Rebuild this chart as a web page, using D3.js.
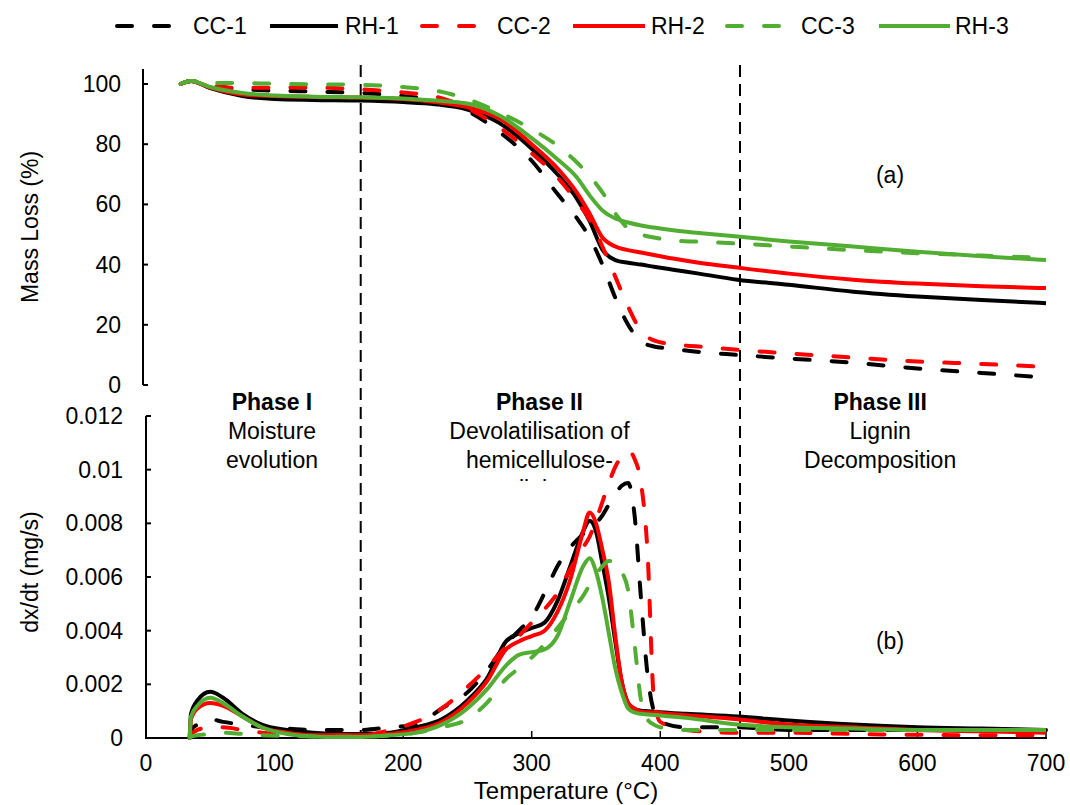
<!DOCTYPE html>
<html>
<head>
<meta charset="utf-8">
<script src="https://cdn.jsdelivr.net/npm/d3@7"></script>
<style>
  body { margin: 0; background: #fff; }
  svg { font-family: "Liberation Sans", Arial, sans-serif; }
</style>
</head>
<body>
<div id="chart"></div>
<script>
// series names and colours
var names = ["CC-1", "RH-1", "CC-2", "RH-2", "CC-3", "RH-3"];
var colors = ["#000000", "#000000", "#ff0000", "#ff0000", "#52ae32", "#52ae32"];
var dashed = [true, false, true, false, true, false];

// (a) mass loss, %
var tgTemp = [27, 35, 50, 75, 100, 130, 167, 200, 225, 250, 275, 300, 320, 335, 345, 355, 365, 375, 385, 395, 410, 430, 460, 500, 550, 600, 650, 700];
var tgCC1 = [100, 101, 99.5, 98.3, 97.8, 97.5, 97, 96, 94.5, 91, 84, 74.5, 63.5, 55.5, 49, 40, 29, 20, 14.5, 12.8, 12, 11, 10, 8.8, 7.4, 5.5, 4, 2.5];
var tgRH1 = [100, 101, 98.6, 96, 95, 94.7, 94.5, 94, 93.3, 91.5, 87, 78.5, 70, 62, 54.5, 45, 41.5, 40.6, 40, 39.3, 38.3, 37, 35, 33.3, 31, 29.4, 28.2, 27.2];
var tgCC2 = [100, 101, 99.3, 98.7, 98.8, 98.8, 98.2, 97.2, 95.8, 92, 85.5, 77, 69, 61, 55, 46, 36, 26, 18, 14.8, 13.5, 12.8, 11.7, 10.5, 9.1, 7.8, 7, 6];
var tgRH2 = [100, 101, 98.8, 96.5, 96, 95.7, 95.5, 95, 94, 92.3, 88.5, 80, 72, 64, 57, 49, 46, 44.8, 44, 43.2, 42, 40.6, 39, 37, 35, 33.7, 32.8, 32.2];
var tgCC3 = [100, 101, 100.4, 100.3, 100.1, 99.9, 99.7, 99, 97.8, 95, 90.5, 85, 79.5, 74, 69.5, 64, 57, 52, 50, 49, 48, 47.6, 47, 46, 44.8, 43.8, 43, 42.2];
var tgRH3 = [100, 101, 99, 97, 96.2, 95.8, 95.6, 95.2, 94.5, 93.5, 89.5, 82, 75, 69, 63, 58, 55.3, 54, 53, 52.3, 51.4, 50.5, 49.3, 47.7, 46, 44.3, 42.8, 41.5];

// (b) dx/dt, mg/s
var dtgTemp = [34, 35, 40, 50, 60, 75, 90, 110, 130, 150, 167, 190, 210, 230, 250, 265, 280, 290, 300, 310, 320, 330, 340, 345, 350, 355, 360, 365, 370, 375, 380, 385, 390, 395, 400, 420, 460, 500, 550, 600, 650, 700];
var dtgCC1 = [0, 0.0003, 0.0005, 0.0007, 0.0006, 0.0005, 0.0004, 0.00035, 0.0003, 0.0003, 0.0003, 0.0004, 0.0005, 0.0011, 0.0017, 0.0025, 0.0035, 0.004, 0.0045, 0.0054, 0.0064, 0.0071, 0.0076, 0.0078, 0.008, 0.0083, 0.0087, 0.0091, 0.0094, 0.0095, 0.0083, 0.0052, 0.0024, 0.001, 0.0006, 0.0004, 0.0004, 0.0003, 0.0003, 0.0003, 0.0003, 0.0003];
var dtgRH1 = [0, 0.0009, 0.0014, 0.00172, 0.0015, 0.0009, 0.0005, 0.0003, 0.0002, 0.00015, 0.00015, 0.0002, 0.0004, 0.0007, 0.0014, 0.0022, 0.0036, 0.0039, 0.0041, 0.0043, 0.0051, 0.0064, 0.0077, 0.0081, 0.0077, 0.0065, 0.0052, 0.0036, 0.0021, 0.0013, 0.00108, 0.00102, 0.001, 0.00098, 0.00096, 0.0009, 0.0008, 0.00065, 0.0005, 0.0004, 0.00035, 0.0003];
var dtgCC2 = [0, 0.0001, 0.0003, 0.0004, 0.0004, 0.0003, 0.0002, 0.00015, 0.0001, 0.0001, 0.0001, 0.0003, 0.0006, 0.0011, 0.0019, 0.0026, 0.0034, 0.0038, 0.0043, 0.0048, 0.0054, 0.0063, 0.0071, 0.0075, 0.0081, 0.0088, 0.0095, 0.0101, 0.0105, 0.0107, 0.0104, 0.0095, 0.007, 0.0015, 0.0006, 0.0003, 0.0002, 0.0002, 0.00015, 0.00012, 0.0001, 0.0001];
var dtgRH2 = [0, 0.0007, 0.0011, 0.0013, 0.0012, 0.0008, 0.0004, 0.0002, 0.0001, 0.0001, 0.0001, 0.00015, 0.0003, 0.0006, 0.0013, 0.0021, 0.0033, 0.0036, 0.0038, 0.004, 0.0047, 0.0059, 0.0077, 0.0084, 0.008, 0.007, 0.0058, 0.0038, 0.0021, 0.0013, 0.0011, 0.00098, 0.00096, 0.00095, 0.00093, 0.00085, 0.0007, 0.0005, 0.0004, 0.0003, 0.00025, 0.0002];
var dtgCC3 = [0, 0.00005, 0.0001, 0.00015, 0.0002, 0.00015, 0.0001, 0.00008, 0.00006, 0.00005, 0.00005, 0.0001, 0.0002, 0.0004, 0.0007, 0.0013, 0.0022, 0.0026, 0.003, 0.0035, 0.0041, 0.0047, 0.0053, 0.0057, 0.0061, 0.0064, 0.0066, 0.0066, 0.0062, 0.0055, 0.0035, 0.0014, 0.0007, 0.0005, 0.0004, 0.0003, 0.0003, 0.0003, 0.0003, 0.0003, 0.0003, 0.0003];
var dtgRH3 = [0, 0.0008, 0.0012, 0.0015, 0.0013, 0.0008, 0.0004, 0.00015, 0.00006, 0.00004, 0.00004, 0.0001, 0.0002, 0.0005, 0.0011, 0.0018, 0.0027, 0.0031, 0.0032, 0.0033, 0.0038, 0.0051, 0.0064, 0.0067, 0.0062, 0.0052, 0.0039, 0.0026, 0.0017, 0.0011, 0.00095, 0.0009, 0.00088, 0.00086, 0.00084, 0.00075, 0.0005, 0.0004, 0.00035, 0.0003, 0.0003, 0.0003];

var tgSeries = [tgCC1, tgRH1, tgCC2, tgRH2, tgCC3, tgRH3];
var dtgSeries = [dtgCC1, dtgRH1, dtgCC2, dtgRH2, dtgCC3, dtgRH3];

var xTicks = [0, 100, 200, 300, 400, 500, 600, 700];
var tgTicks = [0, 20, 40, 60, 80, 100];
var dtgTicks = [0, 0.002, 0.004, 0.006, 0.008, 0.01, 0.012];
var phaseLines = [167, 462];
var phases = [
  {t: 98, lines: ["Phase I", "Moisture", "evolution"]},
  {t: 306, lines: ["Phase II", "Devolatilisation of", "hemicellulose-", "cellulose"]},
  {t: 571, lines: ["Phase III", "Lignin", "Decomposition"]}
];

var W = 1070, H = 805;
var svg = d3.select("#chart").append("svg").attr("width", W).attr("height", H);

var x = d3.scaleLinear().domain([0, 700]).range([146, 1046]);
var yTop = d3.scaleLinear().domain([0, 100]).range([385, 84]);
var yBot = d3.scaleLinear().domain([0, 0.012]).range([738, 416]);

var fs = "23px";

// phase text (a text box, last line cut off)
svg.append("clipPath").attr("id", "phclip")
  .append("rect").attr("x", 0).attr("y", 388).attr("width", W).attr("height", 93);
var ph = svg.append("g").attr("clip-path", "url(#phclip)");
phases.forEach(function(p) {
  p.lines.forEach(function(s, i) {
    ph.append("text")
      .attr("x", x(p.t)).attr("y", 410 + i * 29)
      .attr("text-anchor", "middle")
      .style("font-size", fs)
      .style("font-weight", i == 0 ? "bold" : "normal")
      .text(s);
  });
});

// phase separators
svg.selectAll(".phase").data(phaseLines).enter().append("line")
  .attr("x1", function(d) { return x(d); }).attr("x2", function(d) { return x(d); })
  .attr("y1", 65).attr("y2", 738)
  .attr("stroke", "#000").attr("stroke-width", 2).attr("stroke-dasharray", "12,7");

// axes (a)
var gTop = svg.append("g");
gTop.append("line").attr("x1", 143).attr("x2", 143).attr("y1", 69).attr("y2", 385)
  .attr("stroke", "#000").attr("stroke-width", 2);
gTop.selectAll(".tk").data(tgTicks).enter().append("line")
  .attr("x1", 143).attr("x2", 148)
  .attr("y1", function(d) { return yTop(d); }).attr("y2", function(d) { return yTop(d); })
  .attr("stroke", "#000").attr("stroke-width", 2);
gTop.selectAll(".tl").data(tgTicks).enter().append("text")
  .attr("x", 121).attr("y", function(d) { return yTop(d) + 8; })
  .attr("text-anchor", "end").style("font-size", fs)
  .text(function(d) { return d; });

// axes (b)
var gBot = svg.append("g");
gBot.append("line").attr("x1", 146).attr("x2", 146).attr("y1", 416).attr("y2", 739)
  .attr("stroke", "#000").attr("stroke-width", 2);
gBot.append("line").attr("x1", 145).attr("x2", 1047).attr("y1", 738).attr("y2", 738)
  .attr("stroke", "#000").attr("stroke-width", 2);
gBot.selectAll(".tk").data(dtgTicks).enter().append("line")
  .attr("x1", 146).attr("x2", 151)
  .attr("y1", function(d) { return yBot(d); }).attr("y2", function(d) { return yBot(d); })
  .attr("stroke", "#000").attr("stroke-width", 2);
gBot.selectAll(".tl").data(dtgTicks).enter().append("text")
  .attr("x", 123).attr("y", function(d) { return yBot(d) + 8; })
  .attr("text-anchor", "end").style("font-size", fs)
  .text(function(d) { return d; });
gBot.selectAll(".xk").data(xTicks).enter().append("line")
  .attr("x1", function(d) { return x(d); }).attr("x2", function(d) { return x(d); })
  .attr("y1", 738).attr("y2", 731)
  .attr("stroke", "#000").attr("stroke-width", 1.5);
gBot.selectAll(".xl").data(xTicks).enter().append("text")
  .attr("x", function(d) { return x(d); }).attr("y", 771)
  .attr("text-anchor", "middle").style("font-size", fs)
  .text(function(d) { return d; });

// axis titles
svg.append("text").attr("x", 566).attr("y", 799).attr("text-anchor", "middle")
  .style("font-size", "24px").text("Temperature (°C)");
svg.append("text").attr("transform", "translate(38,227)rotate(-90)").attr("text-anchor", "middle")
  .style("font-size", fs).text("Mass Loss (%)");
svg.append("text").attr("transform", "translate(38,572)rotate(-90)").attr("text-anchor", "middle")
  .style("font-size", fs).text("dx/dt (mg/s)");

svg.append("text").attr("x", 890).attr("y", 183).attr("text-anchor", "middle")
  .style("font-size", fs).text("(a)");
svg.append("text").attr("x", 890).attr("y", 649).attr("text-anchor", "middle")
  .style("font-size", fs).text("(b)");

// curves
var lineTop = d3.line()
  .x(function(d, i) { return x(tgTemp[i]); })
  .y(function(d) { return yTop(d); })
  .curve(d3.curveMonotoneX);
var lineBot = d3.line()
  .x(function(d, i) { return x(dtgTemp[i]); })
  .y(function(d) { return yBot(d); })
  .curve(d3.curveMonotoneX);

function styleLine(sel, i) {
  sel.attr("fill", "none").attr("stroke", colors[i]).attr("stroke-width", 4)
    .attr("stroke-linejoin", "round")
    .attr("stroke-linecap", dashed[i] ? "round" : "butt")
    .attr("stroke-dasharray", dashed[i] ? "15,22" : null);
}

tgSeries.forEach(function(s, i) {
  svg.append("path").datum(s).attr("d", lineTop).call(styleLine, i);
});
dtgSeries.forEach(function(s, i) {
  svg.append("path").datum(s).attr("d", lineBot).call(styleLine, i);
});

// legend
var legX = [[117, 172, 193], [270, 338, 345], [422, 476, 497], [573, 645, 651], [727, 782, 801], [879, 950, 955]];
var leg = svg.append("g");
names.forEach(function(n, i) {
  leg.append("line").attr("x1", legX[i][0]).attr("x2", legX[i][1]).attr("y1", 26).attr("y2", 26)
    .call(styleLine, i);
  leg.append("text").attr("x", legX[i][2]).attr("y", 34).style("font-size", fs).text(n);
});
</script>
</body>
</html>
